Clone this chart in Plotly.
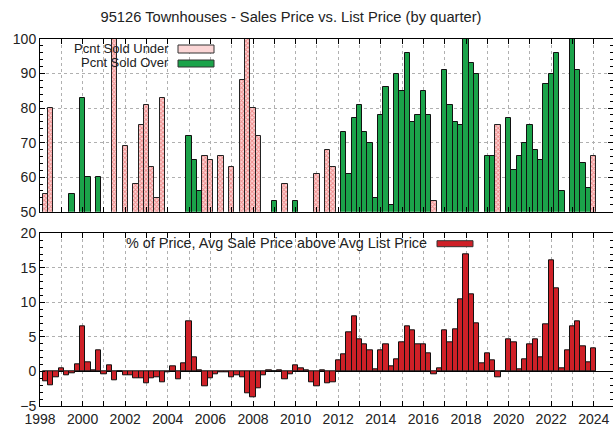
import plotly.graph_objects as go
from plotly.subplots import make_subplots

years = list(range(1998, 2024))
quarters = [f"{y}Q{q}" for y in years for q in range(1, 5)]
# x position: end of quarter in fractional years
xq = [int(s[:4]) + int(s[-1]) / 4 for s in quarters]

N = None
pct_under = [
    55, 80, N, N,      # 1998
    N, N, N, N,        # 1999
    N, N, N, N,        # 2000
    N, 100, N, 69,     # 2001
    N, 58, 75, 81,     # 2002
    63, 54, 83, N,     # 2003
    N, N, N, N,        # 2004
    N, N, 66, 65,      # 2005
    N, 66, N, 63,      # 2006
    N, 88, 100, 80,    # 2007
    72, N, N, N,       # 2008
    N, 58, N, N,       # 2009
    N, N, N, 61,       # 2010
    N, 68, 63, N,      # 2011
    N, N, N, N,        # 2012
    N, N, N, N,        # 2013
    N, N, N, N,        # 2014
    N, N, N, N,        # 2015
    N, 53, N, N,       # 2016
    N, N, N, N,        # 2017
    N, N, N, N,        # 2018
    N, 75, N, N,       # 2019
    N, N, N, N,        # 2020
    N, N, N, N,        # 2021
    N, N, N, N,        # 2022
    N, N, N, 66,       # 2023
]
pct_over = [
    N, N, N, N,        # 1998
    N, 55, N, 83,      # 1999
    60, N, 60, N,      # 2000
    N, N, N, N,        # 2001
    N, N, N, N,        # 2002
    N, N, N, N,        # 2003
    N, N, N, 72,       # 2004
    65, 56, N, N,      # 2005
    N, N, N, N,        # 2006
    N, N, N, N,        # 2007
    N, N, N, 53,       # 2008
    N, N, N, 53,       # 2009
    N, N, N, N,        # 2010
    N, N, N, N,        # 2011
    73, 61, 77, 81,    # 2012
    73, 70, 54, 78,    # 2013
    86, 52, 90, 85,    # 2014
    96, 76, 78, 85,    # 2015
    78, N, N, 91,      # 2016
    81, 76, 75, 100,   # 2017
    93, 90, N, 66,     # 2018
    66, N, N, 77,      # 2019
    62, 66, 70, 75,    # 2020
    68, 65, 87, 90,    # 2021
    96, 56, N, 100,    # 2022
    91, 64, 57, N,     # 2023
]
pct_above = [
    -1.4, -2.0, -0.9, 0.4,    # 1998
    -0.5, -0.3, 1.0, 6.5,     # 1999
    1.3, 0.15, 3.0, -0.4,     # 2000
    0.9, -1.3, 0.0, -0.5,     # 2001
    -0.5, -1.0, -1.0, -1.7,   # 2002
    -1.0, -0.8, -1.6, -0.1,   # 2003
    0.7, -1.1, 1.2, 7.3,      # 2004
    2.0, 0.2, -2.2, -1.0,     # 2005
    -0.4, -0.1, -0.1, -0.9,   # 2006
    -0.6, -0.8, -3.2, -3.8,   # 2007
    -2.5, -0.5, 0.1, 0.05,    # 2008
    0.2, -1.2, -0.4, 0.9,     # 2009
    0.4, 0.2, -1.6, -2.2,     # 2010
    0.2, -1.7, -1.6, 1.6,     # 2011
    2.5, 5.6, 8.0, 4.6,       # 2012
    4.0, 3.1, 0.3, 3.1,       # 2013
    3.9, 0.8, 1.8, 4.2,       # 2014
    6.5, 6.0, 3.9, 3.9,       # 2015
    2.6, -0.4, 0.5, 5.9,      # 2016
    4.2, 6.1, 10.5, 16.9,     # 2017
    11.2, 6.9, 1.2, 2.6,      # 2018
    1.6, -0.9, 0.0, 4.6,      # 2019
    4.2, 0.3, 1.7, 3.9,       # 2020
    4.7, 2.0, 6.8, 16.1,      # 2021
    12.1, 0.4, 3.0, 6.6,      # 2022
    7.2, 3.6, 1.3, 3.3,       # 2023
]
x_tick_years = list(range(1998, 2025, 2))

W, H = 613, 426
ML, MR, MT, MB = 40, 0, 39, 20
PW, PH = W - ML - MR, H - MT - MB

def px_x(px):
    return (px - ML) / PW

def px_y(py):
    return (H - MB - py) / PH

FONT = "Liberation Sans, Arial, sans-serif"
GREEN = "#1ba34a"
RED = "#cf2027"
PINK_FG = "#e03c3c"
PINK_BG = "#fbd6d6"

fig = make_subplots(rows=2, cols=1, shared_xaxes=False, vertical_spacing=0.06)

fig.add_trace(go.Bar(
    x=xq, y=pct_under, width=0.25, name="Pcnt Sold Under",
    marker=dict(color=PINK_BG, line=dict(color="#222", width=1),
                pattern=dict(shape="x", fgcolor=PINK_FG, bgcolor=PINK_BG, size=3, solidity=0.5)),
    showlegend=False), row=1, col=1)
fig.add_trace(go.Bar(
    x=xq, y=pct_over, width=0.25, name="Pcnt Sold Over",
    marker=dict(color=GREEN, line=dict(color="#111", width=1)),
    showlegend=False), row=1, col=1)
fig.add_trace(go.Bar(
    x=xq, y=pct_above, width=0.25, name="% of Price, Avg Sale Price above Avg List Price",
    marker=dict(color=RED, line=dict(color="#111", width=1)),
    showlegend=False), row=2, col=1)

top_dom = [px_y(211.7), 1.0]
bot_dom = [0.0, px_y(233.3)]

xcommon = dict(range=[1998, 1998 + PW / 21.3], tickvals=x_tick_years, ticks="inside", ticklen=5,
               tickcolor="#000", showgrid=True, gridcolor="#b0b0b0", griddash="dot", gridwidth=1,
               minor=dict(dtick=1, tick0=1998, showgrid=True, gridcolor="#b0b0b0", griddash="dot",
                          ticks="inside", ticklen=5, tickcolor="#000"),
               showline=True, linecolor="#000", linewidth=1, mirror="ticks", zeroline=False,
               tickfont=dict(family=FONT, size=14, color="#222"))
fig.update_layout(
    xaxis=dict(**xcommon, showticklabels=False, domain=[0, 1]),
    xaxis2=dict(**xcommon, showticklabels=True, domain=[0, 1]),
    yaxis=dict(domain=top_dom, range=[50, 100], dtick=10, ticks="inside", ticklen=5, tickcolor="#000",
               showgrid=True, gridcolor="#b0b0b0", griddash="dot",
               minor=dict(dtick=2, ticks="inside", ticklen=3, tickcolor="#000", showgrid=False),
               showline=True, linecolor="#000", mirror="ticks", zeroline=False,
               tickfont=dict(family=FONT, size=14, color="#222")),
    yaxis2=dict(domain=bot_dom, range=[-5, 20], dtick=5, ticks="inside", ticklen=5, tickcolor="#000",
                showgrid=True, gridcolor="#b0b0b0", griddash="dot",
                minor=dict(dtick=1, ticks="inside", ticklen=3, tickcolor="#000", showgrid=False),
                showline=True, linecolor="#000", mirror="ticks",
                zeroline=True, zerolinecolor="#000", zerolinewidth=1,
                tickfont=dict(family=FONT, size=14, color="#222")),
    barmode="overlay", bargap=0,
    width=W, height=H, autosize=False,
    margin=dict(l=ML, r=MR, t=MT, b=MB),
    paper_bgcolor="white", plot_bgcolor="white",
    font=dict(family=FONT, color="#222"),
    title=dict(text="95126 Townhouses - Sales Price vs. List Price (by quarter)",
               x=291 / W, xanchor="center", xref="container",
               y=1 - 17 / H, yanchor="middle", yref="container",
               font=dict(family=FONT, size=14.7, color="#222")),
)

# legend (text left of key, gnuplot style)
legend_items = [
    ("Pcnt Sold Under", 48.3, 45, 53, PINK_BG),
    ("Pcnt Sold Over", 62.3, 60, 67, GREEN),
]
for text, ty, y0, y1, col in legend_items:
    fig.add_annotation(text=text, xref="paper", yref="paper", x=px_x(171), y=px_y(ty),
                       xanchor="right", yanchor="middle", showarrow=False,
                       font=dict(family=FONT, size=13, color="#222"))
    fig.add_shape(type="rect", xref="paper", yref="paper",
                  x0=px_x(178), x1=px_x(214), y0=px_y(y1), y1=px_y(y0),
                  fillcolor=col, line=dict(color="#333", width=1))

fig.add_annotation(text="% of Price, Avg Sale Price above Avg List Price", xref="paper", yref="paper",
                   x=px_x(429), y=px_y(242.7), xanchor="right", yanchor="middle", showarrow=False,
                   font=dict(family=FONT, size=14.4, color="#222"))
fig.add_shape(type="rect", xref="paper", yref="paper",
              x0=px_x(437), x1=px_x(473), y0=px_y(246.7), y1=px_y(240.7),
              fillcolor=RED, line=dict(color="#333", width=1))

fig.write_html("out.html", config={"displayModeBar": False})

# remove the browser's default body margin so the figure sits at the window's corner
with open("out.html", "r", encoding="utf-8") as f:
    html = f.read()
html = html.replace("<head>", "<head><style>html,body{margin:0;padding:0;overflow:hidden;}</style>", 1)
with open("out.html", "w", encoding="utf-8") as f:
    f.write(html)
